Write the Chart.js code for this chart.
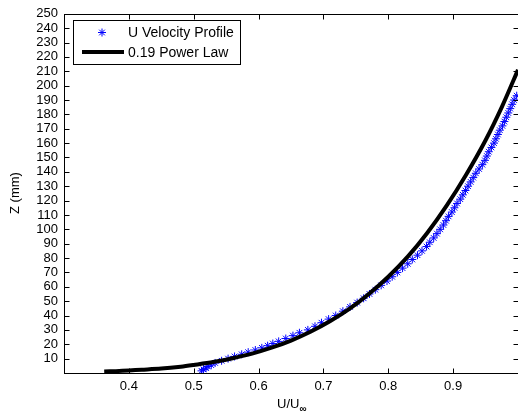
<!DOCTYPE html>
<html>
<head>
<meta charset="utf-8">
<script src="https://cdn.jsdelivr.net/npm/chart.js@4.4.1/dist/chart.umd.min.js"></script>
<style>
  html, body { margin: 0; padding: 0; background: #fff; overflow: hidden; }
  #wrap { width: 518px; height: 413px; overflow: hidden; }
</style>
</head>
<body>
<div id="wrap"><canvas id="profileChart" width="524" height="413"></canvas></div>
<script>
// measured profile (U/Uinf, z in mm)
const measU = [0.512, 0.515, 0.519, 0.522, 0.527, 0.533, 0.543, 0.553, 0.563, 0.574,
  0.584, 0.595, 0.605, 0.614, 0.622, 0.631, 0.642, 0.653, 0.663, 0.676,
  0.687, 0.697, 0.708, 0.719, 0.730, 0.741, 0.752, 0.762, 0.771, 0.780,
  0.789, 0.798, 0.806, 0.814, 0.822, 0.830, 0.837, 0.845, 0.852, 0.859,
  0.864, 0.870, 0.875, 0.880, 0.885, 0.889, 0.893, 0.898, 0.902, 0.906,
  0.911, 0.915, 0.919, 0.923, 0.927, 0.931, 0.935, 0.940, 0.945, 0.949,
  0.952, 0.955, 0.959, 0.963, 0.966, 0.969, 0.972, 0.976, 0.979, 0.982,
  0.985, 0.988, 0.991, 0.994, 0.998];
const measZ = [1.5, 2.5, 3.5, 4.5, 5.5, 7, 8.5, 10, 11.5, 13,
  14.5, 16, 17.5, 19, 20.5, 22, 24, 26, 28, 30,
  32.5, 35, 37.5, 40, 43, 46, 49, 52, 55, 58,
  61, 64, 67, 70, 73, 76, 79, 82, 85, 88,
  91, 94, 97, 100, 103, 106, 109, 112, 115, 118,
  121, 124, 127, 130, 133, 136, 139, 142, 145, 148,
  151, 154, 157, 160, 163, 166, 169, 172, 175, 178,
  181, 184, 187, 190, 193];

// power law fit line
const lawU = [0.362, 0.38, 0.40, 0.42, 0.45, 0.48, 0.50, 0.53, 0.56, 0.59, 0.62, 0.65,
  0.68, 0.71, 0.74, 0.77, 0.80, 0.83, 0.86, 0.89, 0.92, 0.95, 0.975, 1.0];
const lawZ = [1.0, 1.3, 1.8, 2.3, 3.1, 4.4, 5.6, 7.6, 10.3, 13.5, 17.6, 22.6,
  28.7, 36, 44.6, 55, 67, 81, 97.5, 116.5, 138, 162, 185, 211];

const seriesNames = ["U Velocity Profile", "0.19 Power Law"];

const FONT = "Liberation Sans, Arial, sans-serif";

function toPoints(xs, ys) {
  return xs.map((x, i) => ({ x: x, y: ys[i] }));
}

// MATLAB style box, inward ticks, legend and axis titles
const matlabAxes = {
  id: "matlabAxes",
  afterDraw(chart) {
    const ctx = chart.ctx;
    const a = chart.chartArea;
    const xs = chart.scales.x;
    const ys = chart.scales.y;
    const L = Math.round(a.left) + 0.5, R = Math.round(a.right) + 0.5;
    const T = Math.round(a.top) + 0.5, B = Math.round(a.bottom) + 0.5;
    const tl = 5;

    ctx.save();
    ctx.strokeStyle = "#000";
    ctx.lineWidth = 1;
    ctx.strokeRect(L, T, R - L, B - T);

    ctx.beginPath();
    xs.ticks.forEach(t => {
      const px = Math.round(xs.getPixelForValue(t.value)) + 0.5;
      ctx.moveTo(px, B); ctx.lineTo(px, B - tl);
      ctx.moveTo(px, T); ctx.lineTo(px, T + tl);
    });
    ys.ticks.forEach(t => {
      const py = Math.round(ys.getPixelForValue(t.value)) + 0.5;
      ctx.moveTo(L, py); ctx.lineTo(L + tl, py);
      ctx.moveTo(R, py); ctx.lineTo(R - tl, py);
    });
    ctx.stroke();

    // legend
    ctx.fillStyle = "#fff";
    ctx.fillRect(73.5, 20.5, 167, 44);
    ctx.strokeRect(73.5, 20.5, 167, 44);

    const ds0 = chart.data.datasets[0];
    const ds1 = chart.data.datasets[1];
    ctx.strokeStyle = ds0.borderColor;
    ctx.fillStyle = ds0.backgroundColor;
    ctx.lineWidth = ds0.borderWidth;
    Chart.helpers.drawPoint(ctx, {
      pointStyle: ds0.pointStyle, radius: ds0.pointRadius,
      borderWidth: ds0.borderWidth, rotation: 0
    }, 102, 32.5);

    ctx.strokeStyle = ds1.borderColor;
    ctx.lineWidth = ds1.borderWidth;
    ctx.beginPath();
    ctx.moveTo(82, 52);
    ctx.lineTo(124, 52);
    ctx.stroke();

    ctx.fillStyle = "#000";
    ctx.font = "14px " + FONT;
    ctx.textAlign = "left";
    ctx.textBaseline = "middle";
    ctx.fillText(ds0.label, 128, 33);
    ctx.fillText(ds1.label, 128, 53);

    // y title
    ctx.font = "13px " + FONT;
    ctx.save();
    ctx.translate(15, 193);
    ctx.rotate(-Math.PI / 2);
    ctx.textAlign = "center";
    ctx.fillText("Z (mm)", 0, 0);
    ctx.restore();

    // x title with subscript
    ctx.textBaseline = "alphabetic";
    ctx.font = "13px " + FONT;
    ctx.fillText("U/U", 277, 408);
    const w = ctx.measureText("U/U").width;
    ctx.font = "bold 10px " + FONT;
    ctx.fillText("\u221E", 277 + w, 412);
    ctx.restore();
  }
};

const ctx = document.getElementById("profileChart").getContext("2d");

const profileChart = new Chart(ctx, {
  type: "scatter",
  data: {
    datasets: [
      {
        label: seriesNames[0],
        data: toPoints(measU, measZ),
        showLine: false,
        pointStyle: "star",
        pointRadius: 4,
        borderWidth: 1,
        borderColor: "#0000ff",
        backgroundColor: "#0000ff",
        order: 2,
      },
      {
        label: seriesNames[1],
        data: toPoints(lawU, lawZ),
        showLine: true,
        pointRadius: 0,
        borderWidth: 4,
        borderColor: "#000000",
        tension: 0.3,
        fill: false,
        order: 1,
      },
    ],
  },
  options: {
    responsive: false,
    animation: false,
    devicePixelRatio: 1,
    layout: { padding: { left: 0, top: 13, right: 2, bottom: 0 } },
    plugins: {
      legend: { display: false },
      tooltip: { enabled: false },
    },
    scales: {
      x: {
        type: "linear",
        min: 0.3,
        max: 1.0,
        grid: { display: false, drawTicks: false },
        border: { display: false },
        ticks: {
          stepSize: 0.1,
          padding: 6,
          color: "#000",
          font: { family: FONT, size: 13 },
          callback: function (v) {
            const r = Math.round(v * 10) / 10;
            return (r <= 0.3 || r >= 1.0) ? "" : r.toFixed(1);
          },
        },
        afterFit: function (s) { s.height = 40; },
      },
      y: {
        type: "linear",
        min: 0,
        max: 250,
        grid: { display: false, drawTicks: false },
        border: { display: false },
        ticks: {
          stepSize: 10,
          autoSkip: false,
          padding: 6,
          color: "#000",
          font: { family: FONT, size: 13 },
          callback: function (v) { return v === 0 ? "" : v; },
        },
        afterFit: function (s) { s.width = 64; },
      },
    },
  },
  plugins: [matlabAxes],
});
</script>
</body>
</html>
